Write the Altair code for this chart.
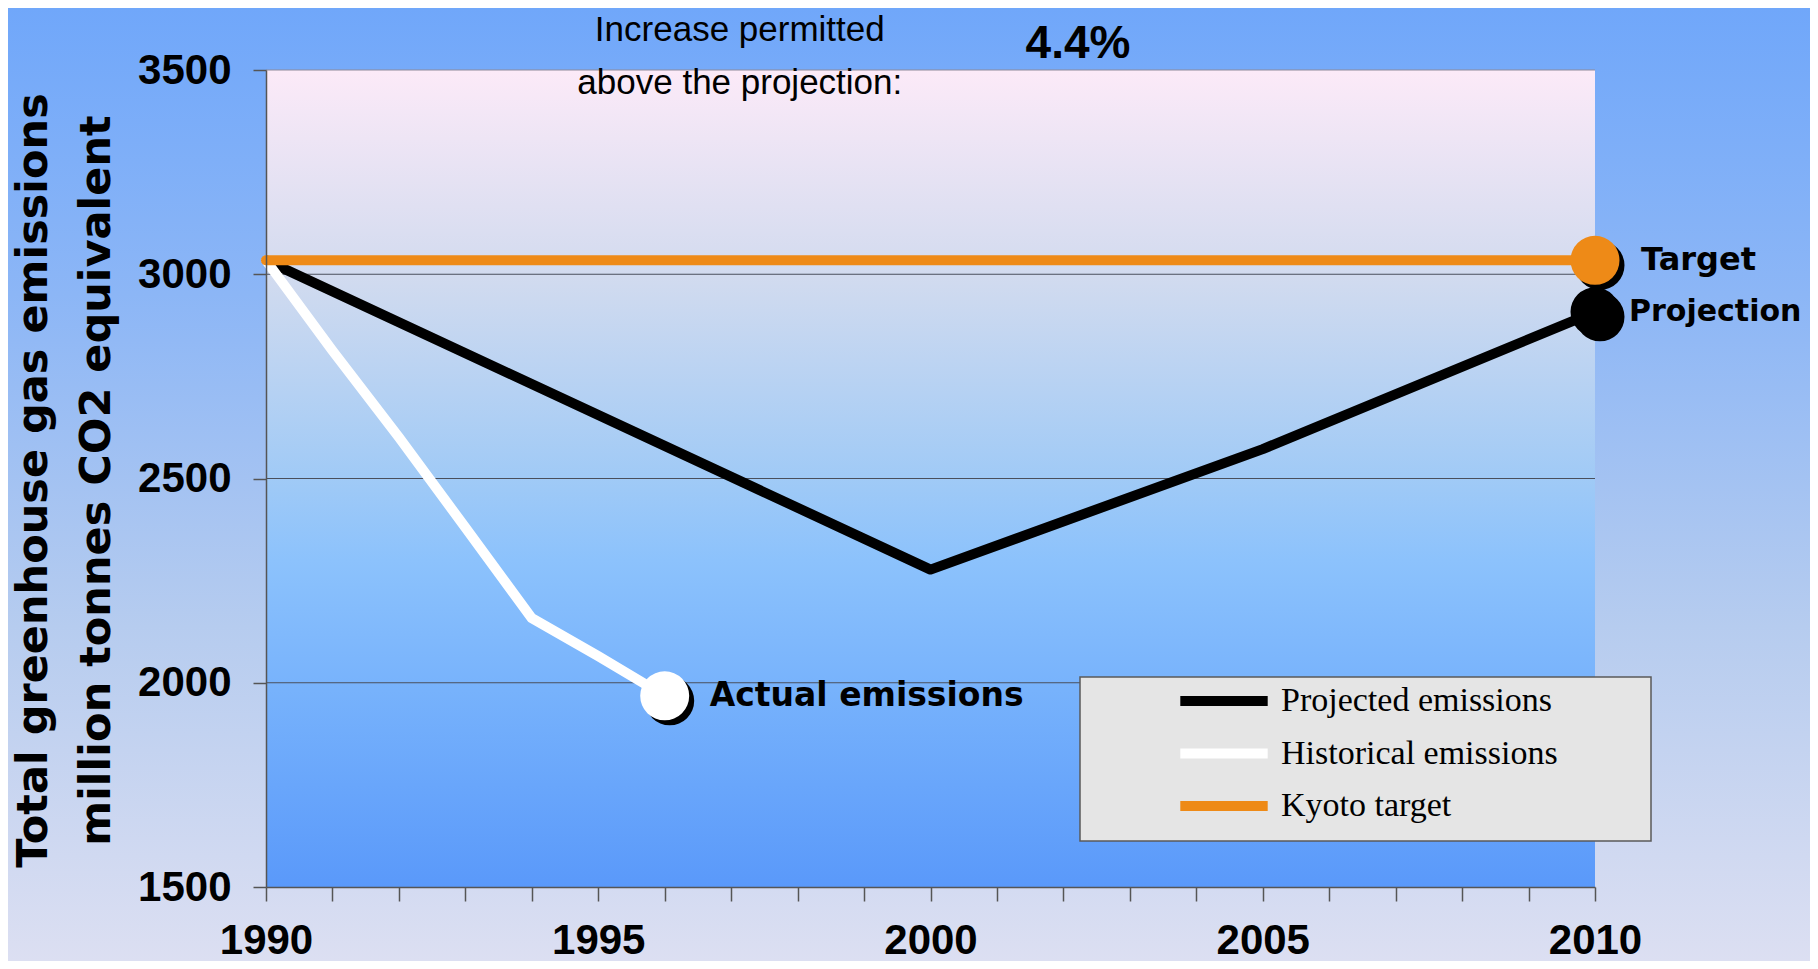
import altair as alt
import pandas as pd

# ---------------- data ----------------
proj_years = [1990, 2000, 2005, 2010]
proj_values = [3034, 2277, 2572, 2908]
hist_years = [1990, 1991, 1992, 1993, 1994, 1995, 1996]
hist_values = [3034, 2813, 2601, 2380, 2158, 2065, 1968]
kyoto_years = [1990, 2010]
kyoto_values = [3034, 3034]

series_names = ["Projected emissions", "Historical emissions", "Kyoto target"]
series_colors = ["#000000", "#FFFFFF", "#EE8A17"]

y_ticks = [1500, 2000, 2500, 3000, 3500]
grid_values = [2000, 2500, 3000]
x_ticks = list(range(1990, 2011))

end_label_text = ["Actual emissions", "Projection", "Target"]
end_label_years = [1996, 2010, 2010]
end_label_values = [1968, 2908, 3034]

note_lines = ["Increase permitted", "above the projection:"]
note_years = [1997.13, 1997.13]
note_values = [3571, 3442]
pct_text = ["4.4%"]
pct_years = [2002.22]
pct_values = [3529]

y_title = ["Total greenhouse gas emissions", "million tonnes CO2 equivalent"]

# ---------------- layout ----------------
W, H = 1329, 817
PAD = {"left": 258, "top": 62, "right": 215, "bottom": 74}
NARROW = "'Liberation Sans Narrow', 'Arial Narrow', 'Liberation Sans', sans-serif"
SANS = "'Liberation Sans', Arial, sans-serif"
WIDE = "'DejaVu Sans', sans-serif"

proj_df = pd.DataFrame({"year": proj_years, "value": proj_values, "series": series_names[0]})
hist_df = pd.DataFrame({"year": hist_years, "value": hist_values, "series": series_names[1]})
kyoto_df = pd.DataFrame({"year": kyoto_years, "value": kyoto_values, "series": series_names[2]})
one = pd.DataFrame({"k": [0]})

xscale = alt.Scale(domain=[1990, 2010], nice=False, zero=False)
yscale = alt.Scale(domain=[1500, 3500], nice=False, zero=False)

xaxis = alt.Axis(
    values=x_ticks, format="d",
    labelExpr="datum.value % 5 == 0 ? datum.label : ''",
    tickSize=14, tickColor="#555555", tickWidth=1.5,
    domainColor="#555555", domainWidth=1.5,
    labelFont=NARROW, labelFontSize=42, labelFontWeight="bold", labelColor="#000000",
    labelPadding=19, labelOverlap=False, labelFlush=False,
    grid=False, title=None, zindex=1,
)
yaxis = alt.Axis(
    values=y_ticks, format="d",
    tickSize=13, tickColor="#555555", tickWidth=1.5,
    domainColor="#555555", domainWidth=1.5,
    labelFont=NARROW, labelFontSize=42, labelFontWeight="bold", labelColor="#000000",
    labelPadding=22, labelOverlap=False, labelFlush=False,
    title=y_title, titleFont=WIDE, titleFontSize=43, titleFontWeight="bold",
    titleColor="#000000", titleAngle=270, titleX=-220, titleY=410,
    titleAlign="center", titleBaseline="alphabetic", titleLineHeight=63,
    grid=False, zindex=1,
)

X = alt.X("year:Q", scale=xscale, axis=xaxis)
Y = alt.Y("value:Q", scale=yscale, axis=yaxis)

legend = alt.Legend(
    title=None, orient="none", legendX=934, legendY=607,
    symbolType="M-2.3,0L2.3,0", symbolStrokeWidth=10, symbolSize=1444,
    labelFont="'Liberation Serif', 'Times New Roman', serif", labelFontSize=34,
    labelColor="#000000", labelLimit=500, rowPadding=8.5, labelOffset=33, padding=0,
)
COLOR = alt.Color("series:N", scale=alt.Scale(domain=series_names, range=series_colors), legend=legend)

outer_grad = {
    "gradient": "linear", "x1": 0, "y1": 0, "x2": 0, "y2": 1,
    "stops": [
        {"offset": 0.0, "color": "#70A7FA"},
        {"offset": 0.3, "color": "#8CB6F6"},
        {"offset": 0.65, "color": "#B6CCEF"},
        {"offset": 1.0, "color": "#DCDFF2"},
    ],
}
plot_grad = {
    "gradient": "linear", "x1": 0, "y1": 0, "x2": 0, "y2": 1,
    "stops": [
        {"offset": 0.0, "color": "#FCEAF8"},
        {"offset": 0.25, "color": "#D2DBEF"},
        {"offset": 0.5, "color": "#A0CAF6"},
        {"offset": 0.6, "color": "#8CC2FC"},
        {"offset": 0.75, "color": "#78B3FC"},
        {"offset": 1.0, "color": "#5A99FA"},
    ],
}

bg = alt.Chart(one).mark_rect(fill=outer_grad, clip=False).encode(
    x=alt.value(-PAD["left"]), x2=alt.value(W + PAD["right"]),
    y=alt.value(-PAD["top"]), y2=alt.value(H + PAD["bottom"]),
)
plotbg = alt.Chart(one).mark_rect(fill=plot_grad).encode(
    x=alt.value(0), x2=alt.value(W), y=alt.value(0), y2=alt.value(H),
)
grid = alt.Chart(pd.DataFrame({"value": grid_values})).mark_rule(
    color="#4A4F5C", strokeWidth=1.2
).encode(y=Y)
topline = alt.Chart(pd.DataFrame({"value": [y_ticks[-1]]})).mark_rule(
    color="#8E8A9A", strokeWidth=1.2
).encode(y=Y)

line_kw = dict(strokeWidth=10, strokeCap="round", strokeJoin="round")
proj_line = alt.Chart(proj_df).mark_line(**line_kw).encode(x=X, y=Y, color=COLOR)
hist_line = alt.Chart(hist_df).mark_line(**line_kw).encode(x=X, y=Y, color=COLOR)
kyoto_line = alt.Chart(kyoto_df).mark_line(**line_kw).encode(x=X, y=Y, color=COLOR)

DOT = 2400
marks_df = pd.DataFrame({"year": end_label_years, "value": end_label_values})
shadow = alt.Chart(marks_df).mark_circle(
    size=DOT, color="#000000", opacity=1, xOffset=5, yOffset=5
).encode(x=X, y=Y)
dot_actual = alt.Chart(marks_df.iloc[[0]]).mark_circle(size=DOT, color=series_colors[1], opacity=1).encode(x=X, y=Y)
dot_proj = alt.Chart(marks_df.iloc[[1]]).mark_circle(size=DOT, color=series_colors[0], opacity=1).encode(x=X, y=Y)
dot_target = alt.Chart(marks_df.iloc[[2]]).mark_circle(size=DOT, color=series_colors[2], opacity=1).encode(x=X, y=Y)

lab_df = pd.DataFrame({"year": end_label_years, "value": end_label_values, "label": end_label_text})
lab_kw = dict(align="left", baseline="middle", font=WIDE, fontWeight="bold", color="#000000")
lab_actual = alt.Chart(lab_df.iloc[[0]]).mark_text(dx=45, fontSize=33, **lab_kw).encode(x=X, y=Y, text="label:N")
lab_proj = alt.Chart(lab_df.iloc[[1]]).mark_text(dx=34, fontSize=30, **lab_kw).encode(x=X, y=Y, text="label:N")
lab_target = alt.Chart(lab_df.iloc[[2]]).mark_text(dx=46, fontSize=32, **lab_kw).encode(x=X, y=Y, text="label:N")

note_df = pd.DataFrame({"year": note_years, "value": note_values, "label": note_lines})
note = alt.Chart(note_df).mark_text(
    align="center", baseline="alphabetic", font=SANS, fontSize=35, color="#000000"
).encode(x=X, y=Y, text="label:N")
pct_df = pd.DataFrame({"year": pct_years, "value": pct_values, "label": pct_text})
pct = alt.Chart(pct_df).mark_text(
    align="center", baseline="alphabetic", font=SANS, fontSize=46, fontWeight="bold", color="#000000"
).encode(x=X, y=Y, text="label:N")

legend_box = alt.Chart(one).mark_rect(fill="#E5E5E5", stroke="#5A5A5A", strokeWidth=1.5).encode(
    x=alt.value(814), x2=alt.value(1385), y=alt.value(607), y2=alt.value(771),
)

chart = alt.layer(
    bg, plotbg, grid, topline,
    proj_line, hist_line, kyoto_line,
    shadow, dot_proj, dot_actual, dot_target,
    lab_actual, lab_proj, lab_target,
    note, pct, legend_box,
).properties(
    width=W, height=H,
    autosize=alt.AutoSizeParams(type="none"),
    padding=PAD,
).configure_view(stroke=None).configure(background="#DCDFF2")

chart.save("out.html", embed_options={"renderer": "svg", "actions": False})
